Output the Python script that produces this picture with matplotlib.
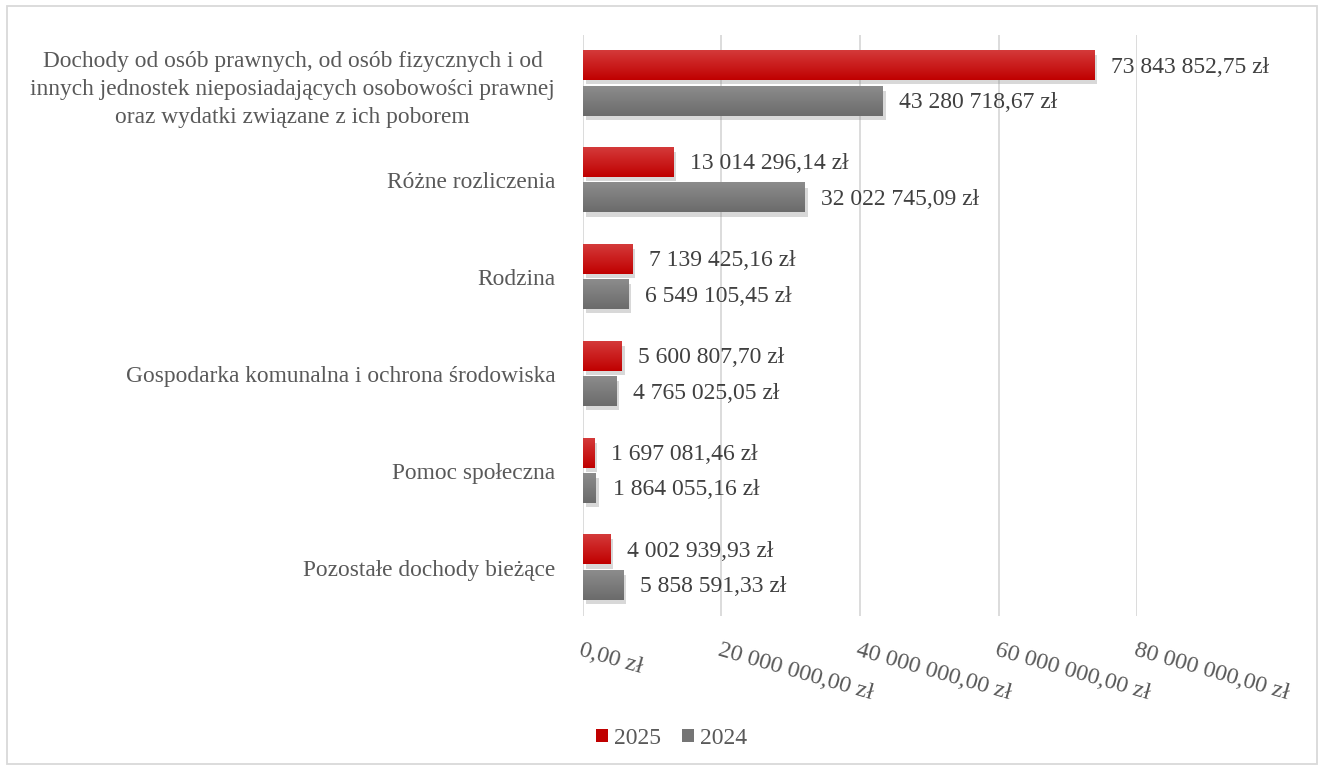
import matplotlib.pyplot as plt
import matplotlib.patheffects as pe
from matplotlib.patches import Rectangle, Patch
from matplotlib.ticker import FuncFormatter
import numpy as np

categories = [
    "Dochody od osób prawnych, od osób fizycznych i od\ninnych jednostek nieposiadających osobowości prawnej\noraz wydatki związane z ich poborem",
    "Różne rozliczenia",
    "Rodzina",
    "Gospodarka komunalna i ochrona środowiska",
    "Pomoc społeczna",
    "Pozostałe dochody bieżące",
]
values_2025 = [73843852.75, 13014296.14, 7139425.16, 5600807.70, 1697081.46, 4002939.93]
values_2024 = [43280718.67, 32022745.09, 6549105.45, 4765025.05, 1864055.16, 5858591.33]
series_names = ["2025", "2024"]

TEXT = "#595959"
FONT = "Liberation Serif"


def pln(v):
    s = f"{v:,.2f}".replace(",", " ").replace(".", ",")
    return s + " zł"


def gradient_bars(ax, bars, top_color, bottom_color):
    # paint each bar with a vertical gradient, the bar underneath keeps its shadow
    grad = np.linspace(0, 1, 64).reshape(-1, 1)
    c1 = np.array(plt.matplotlib.colors.to_rgb(top_color))
    c2 = np.array(plt.matplotlib.colors.to_rgb(bottom_color))
    img = c1[None, None, :] * (1 - grad[..., None]) + c2[None, None, :] * grad[..., None]
    for b in bars:
        x0, y0, w, h = b.get_x(), b.get_y(), b.get_width(), b.get_height()
        ax.imshow(img, extent=(x0, x0 + w, y0 + h, y0), aspect="auto",
                  origin="upper", zorder=3, interpolation="bilinear")


fig = plt.figure(figsize=(13.24, 7.69), dpi=100)
ax = fig.add_axes([0.4403, 0.199, 0.4185, 0.7555])

y = np.arange(len(categories))
h = 0.30
off = 0.183
shadow = [pe.SimplePatchShadow(offset=(2, -3), alpha=0.3, shadow_rgbFace="#808080"), pe.Normal()]
bars25 = ax.barh(y - off, values_2025, height=h, color="#C00000", zorder=2, path_effects=shadow)
bars24 = ax.barh(y + off, values_2024, height=h, color="#757575", zorder=2, path_effects=shadow)
gradient_bars(ax, bars25, "#D43A3A", "#C00000")
gradient_bars(ax, bars24, "#8C8C8C", "#6B6B6B")

for bars, vals in ((bars25, values_2025), (bars24, values_2024)):
    for b, v in zip(bars, vals):
        ax.annotate(pln(v), (b.get_width(), b.get_y() + b.get_height() / 2),
                    xytext=(12, -1), textcoords="offset points", va="center", ha="left",
                    fontsize=17, color="#404040", family=FONT, zorder=5)

ax.set_xlim(0, 80000000)
ax.set_ylim(len(categories) - 0.5, -0.5)
ax.set_xticks(np.arange(0, 80000001, 20000000))
ax.xaxis.set_major_formatter(FuncFormatter(lambda v, p: pln(v)))
ax.set_yticks(y)
ax.set_yticklabels(categories, fontsize=16.8, color=TEXT, family=FONT,
                   linespacing=1.45, multialignment="center")

ax.grid(axis="x", color="#D9D9D9", linewidth=1.3, zorder=0)
ax.set_axisbelow(True)
for s in ax.spines.values():
    s.set_visible(False)
ax.tick_params(axis="both", length=0)
ax.tick_params(axis="y", pad=20)
ax.tick_params(axis="x", pad=17)
for lbl in ax.get_xticklabels():
    lbl.set_rotation(-16)
    lbl.set_rotation_mode("anchor")
    lbl.set_ha("left")
    lbl.set_va("top")
    lbl.set_fontsize(17.3)
    lbl.set_color(TEXT)
    lbl.set_family(FONT)

handles = [Patch(facecolor="#C00000"), Patch(facecolor="#757575")]
fig.legend(handles, series_names, loc="center", bbox_to_anchor=(0.507, 0.04), ncol=2,
           frameon=False, handlelength=0.5, handleheight=0.5, handletextpad=0.25,
           columnspacing=0.9, prop={"family": FONT, "size": 17}, labelcolor=TEXT)

fig.patches.append(Rectangle((0.005, 0.006), 0.99, 0.986, transform=fig.transFigure,
                             fill=False, edgecolor="#D9D9D9", linewidth=1.3))

fig.savefig("out.png", dpi=100, facecolor="white")
